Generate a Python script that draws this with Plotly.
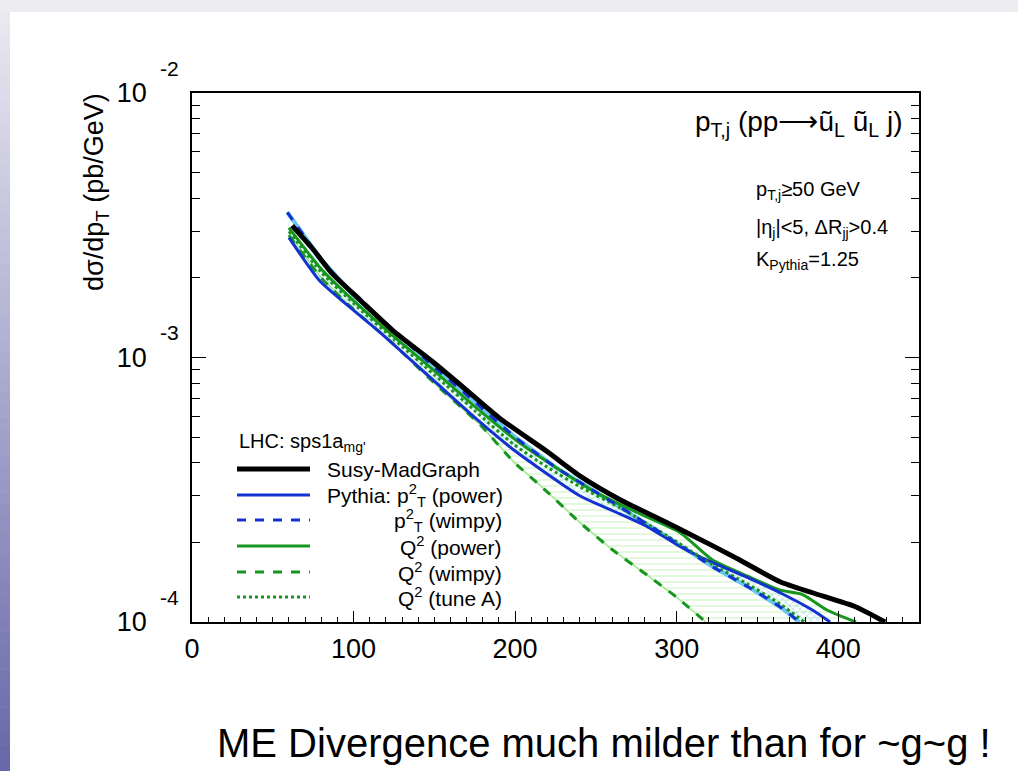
import math
import plotly.graph_objects as go

# ---- data: jet pT spectra (pb/GeV) for pp -> uL uL j ----
pt_mg = [62, 75, 87, 104, 124, 149, 166, 190, 220, 240, 265, 290, 310, 335, 364, 384, 411, 429]
xs_mg = [3.15e-3, 2.56e-3, 2.07e-3, 1.65e-3, 1.27e-3, 9.64e-4, 7.89e-4, 5.92e-4, 4.40e-4,
         3.57e-4, 2.90e-4, 2.44e-4, 2.12e-4, 1.77e-4, 1.42e-4, 1.29e-4, 1.14e-4, 1.0e-4]

pt_pt2_power = [60, 79, 96, 116, 149, 178, 199, 240, 260, 282, 302, 322, 344, 364, 384, 395]
xs_pt2_power = [2.84e-3, 1.95e-3, 1.58e-3, 1.25e-3, 8.24e-4, 5.72e-4, 4.48e-4, 3.00e-4,
                2.64e-4, 2.29e-4, 1.93e-4, 1.68e-4, 1.47e-4, 1.29e-4, 1.11e-4, 1.0e-4]

pt_pt2_wimpy = [59, 70, 80, 100, 125, 150, 175, 200, 225, 250, 265, 294, 322, 344, 364, 376]
xs_pt2_wimpy = [3.54e-3, 2.85e-3, 2.35e-3, 1.72e-3, 1.26e-3, 9.2e-4, 6.8e-4, 5.0e-4,
                3.85e-4, 3.1e-4, 2.72e-4, 2.1e-4, 1.62e-4, 1.36e-4, 1.14e-4, 1.0e-4]

pt_q2_power = [60, 80, 100, 125, 150, 175, 200, 225, 250, 275, 302, 322, 344, 364, 378, 393, 411]
xs_q2_power = [3.09e-3, 2.16e-3, 1.64e-3, 1.20e-3, 8.9e-4, 6.53e-4, 4.9e-4, 3.85e-4,
               3.09e-4, 2.60e-4, 2.18e-4, 1.72e-4, 1.49e-4, 1.32e-4, 1.27e-4, 1.11e-4, 1.0e-4]

pt_q2_wimpy = [60, 80, 100, 125, 150, 178, 199, 220, 240, 260, 282, 300, 318]
xs_q2_wimpy = [2.9e-3, 2.0e-3, 1.52e-3, 1.12e-3, 8.0e-4, 5.6e-4, 4.04e-4, 3.1e-4,
               2.38e-4, 1.88e-4, 1.5e-4, 1.24e-4, 1.0e-4]

pt_q2_tuneA = [60, 80, 100, 125, 150, 175, 199, 220, 240, 265, 294, 322, 344, 364, 379]
xs_q2_tuneA = [3.0e-3, 2.1e-3, 1.6e-3, 1.17e-3, 8.6e-4, 6.3e-4, 4.7e-4, 3.85e-4,
               3.25e-4, 2.7e-4, 2.12e-4, 1.65e-4, 1.39e-4, 1.17e-4, 1.0e-4]

x_ticks = [0, 100, 200, 300, 400]
y_ticks = [1e-4, 1e-3, 1e-2]
y_exponents = ["-4", "-3", "-2"]
y_minor = [m * 10.0 ** e for e in (-4, -3) for m in range(2, 10)]

legend_header = "LHC: sps1a<sub>mg'</sub>"
legend_labels = [
    "Susy-MadGraph",
    "Pythia: p<sup>2</sup><sub>T</sub> (power)",
    "p<sup>2</sup><sub>T</sub> (wimpy)",
    "Q<sup>2</sup> (power)",
    "Q<sup>2</sup> (wimpy)",
    "Q<sup>2</sup> (tune A)",
]

# ---- page geometry (pixels) ----
W, H = 1018, 771
L, R, T, B = 192, 919, 93, 622
PW, PH = R - L, B - T


def fx(px):
    return (px - L) / PW


def fy(py):
    return (B - py) / PH


FONT = "Liberation Sans, Arial, sans-serif"
BLACK = "#000000"
BLUE = "#1432d2"
GREEN = "#16961c"
LIGHT_GREEN = "#9fe68c"
LIGHT_BLUE = "#6cc6f2"

fig = go.Figure()

# hatched band spanned by the Q^2 variations
fig.add_trace(go.Scatter(x=pt_q2_wimpy, y=xs_q2_wimpy, mode="lines",
                         line=dict(color=LIGHT_GREEN, width=1.5), hoverinfo="skip"))
fig.add_trace(go.Scatter(x=pt_q2_power, y=xs_q2_power, mode="lines", fill="tonexty",
                         fillcolor="rgba(0,0,0,0)",
                         fillpattern=dict(shape="-", fgcolor=LIGHT_GREEN, bgcolor="rgba(0,0,0,0)",
                                          size=6, solidity=0.2),
                         line=dict(color=LIGHT_GREEN, width=1.5), hoverinfo="skip"))
# hatched band spanned by the pT^2 variations
fig.add_trace(go.Scatter(x=pt_pt2_power, y=xs_pt2_power, mode="lines",
                         line=dict(color=LIGHT_BLUE, width=1), hoverinfo="skip"))
fig.add_trace(go.Scatter(x=pt_pt2_wimpy, y=xs_pt2_wimpy, mode="lines", fill="tonexty",
                         fillcolor="rgba(0,0,0,0)",
                         fillpattern=dict(shape="x", fgcolor=LIGHT_BLUE, bgcolor="rgba(0,0,0,0)",
                                          size=5, solidity=0.3),
                         line=dict(color=LIGHT_BLUE, width=4), hoverinfo="skip"))

# the six spectra
curves = [
    (pt_q2_wimpy, xs_q2_wimpy, GREEN, 3, "dash"),
    (pt_q2_power, xs_q2_power, GREEN, 3, "solid"),
    (pt_pt2_power, xs_pt2_power, BLUE, 3, "solid"),
    (pt_q2_tuneA, xs_q2_tuneA, GREEN, 3, "dot"),
    (pt_pt2_wimpy, xs_pt2_wimpy, BLUE, 3, "dash"),
    (pt_mg, xs_mg, BLACK, 5, "solid"),
]
for xs, ys, col, w, dash in curves:
    fig.add_trace(go.Scatter(x=xs, y=ys, mode="lines",
                             line=dict(color=col, width=w, dash=dash, shape="spline",
                                       smoothing=0.6),
                             hoverinfo="skip"))

shapes = []
# slide decoration: top strip and left gradient band
shapes.append(dict(type="rect", xref="paper", yref="paper", x0=fx(0), x1=fx(W), y0=fy(0), y1=fy(12),
                   fillcolor="#ececf1", line=dict(width=0), layer="below"))
n = 60
top_c = (232, 232, 240)
bot_c = (104, 104, 170)
for i in range(n):
    t = i / (n - 1)
    c = tuple(int(round(top_c[k] + (bot_c[k] - top_c[k]) * t)) for k in range(3))
    y0 = 12 + (H - 12) * i / n
    y1 = 12 + (H - 12) * (i + 1) / n
    shapes.append(dict(type="rect", xref="paper", yref="paper", x0=fx(0), x1=fx(10),
                       y0=fy(y1), y1=fy(y0) + 0.001, fillcolor="rgb(%d,%d,%d)" % c,
                       line=dict(width=0), layer="below"))

# legend samples
leg_rows = [469, 495, 520, 546, 572, 597]
leg_styles = [(BLACK, 5, "solid"), (BLUE, 3, "solid"), (BLUE, 3, "dash"),
              (GREEN, 3, "solid"), (GREEN, 3, "dash"), (GREEN, 3, "dot")]
for yy, (col, w, dash) in zip(leg_rows, leg_styles):
    shapes.append(dict(type="line", xref="paper", yref="paper", x0=fx(237), x1=fx(310),
                       y0=fy(yy), y1=fy(yy), line=dict(color=col, width=w, dash=dash)))

annotations = []
# y tick exponents (log axis: annotation y is given in decades)
for v, e in zip(y_ticks, y_exponents):
    annotations.append(dict(x=fx(158), y=math.log10(v), xref="paper", yref="y", text=e,
                            showarrow=False, xanchor="left", yanchor="middle", yshift=25,
                            font=dict(family=FONT, size=21, color=BLACK)))
# y axis title
annotations.append(dict(x=fx(96), y=fy(192), xref="paper", yref="paper",
                        text="dσ/dp<sub>T</sub> (pb/GeV)", textangle=-90, showarrow=False,
                        xanchor="center", yanchor="middle",
                        font=dict(family=FONT, size=27, color=BLACK)))
# process label and cuts
annotations.append(dict(x=fx(905), y=fy(123), xref="paper", yref="paper",
                        text="p<sub>T,j</sub> (pp⟶ũ<sub>L</sub> ũ<sub>L</sub> j)", showarrow=False,
                        xanchor="right", yanchor="middle",
                        font=dict(family=FONT, size=28, color=BLACK)))
for txt, yy in [("p<sub>T,j</sub>≥50 GeV", 190),
                ("|η<sub>j</sub>|<5, ΔR<sub>jj</sub>>0.4", 228),
                ("K<sub>Pythia</sub>=1.25", 260)]:
    annotations.append(dict(x=fx(754), y=fy(yy), xref="paper", yref="paper", text=txt,
                            showarrow=False, xanchor="left", yanchor="middle",
                            font=dict(family=FONT, size=20, color=BLACK)))
# legend text
annotations.append(dict(x=fx(237), y=fy(442), xref="paper", yref="paper", text=legend_header,
                        showarrow=False, xanchor="left", yanchor="middle",
                        font=dict(family=FONT, size=20, color=BLACK)))
for k, (lab, yy) in enumerate(zip(legend_labels, leg_rows)):
    if k < 2:
        a = dict(x=fx(325), xanchor="left")
    else:
        a = dict(x=fx(504), xanchor="right")
    a.update(y=fy(yy), xref="paper", yref="paper", text=lab, showarrow=False, yanchor="middle",
             font=dict(family=FONT, size=21, color=BLACK))
    annotations.append(a)
# slide caption
annotations.append(dict(x=fx(215), y=fy(743), xref="paper", yref="paper",
                        text="ME Divergence much milder than for ~g~g !", showarrow=False,
                        xanchor="left", yanchor="middle",
                        font=dict(family=FONT, size=40, color=BLACK)))

fig.update_layout(
    width=W, height=H,
    margin=dict(l=L, r=W - R, t=T, b=H - B, pad=0),
    paper_bgcolor="white", plot_bgcolor="white",
    showlegend=False,
    shapes=shapes, annotations=annotations,
    xaxis=dict(range=[0, 450], tickvals=x_ticks, ticks="inside", ticklen=11, tickwidth=1,
               tickcolor=BLACK, showline=True, linecolor=BLACK, linewidth=1.5, mirror=True,
               showgrid=False, zeroline=False, ticklabelstandoff=2,
               minor=dict(dtick=10, ticks="inside", ticklen=5, tickcolor=BLACK, showgrid=False),
               tickfont=dict(family=FONT, size=27, color=BLACK)),
    yaxis=dict(type="log", range=[-4, -2], tickvals=y_ticks, ticktext=["10", "10", "10"],
               ticks="inside", ticklen=14, tickwidth=1, tickcolor=BLACK,
               showline=True, linecolor=BLACK, linewidth=1.5, mirror="ticks",
               showgrid=False, zeroline=False, ticklabelstandoff=38,
               minor=dict(tickvals=y_minor, ticks="inside", ticklen=8, tickcolor=BLACK,
                          showgrid=False),
               tickfont=dict(family=FONT, size=27, color=BLACK)),
)

fig.write_html("out.html")
